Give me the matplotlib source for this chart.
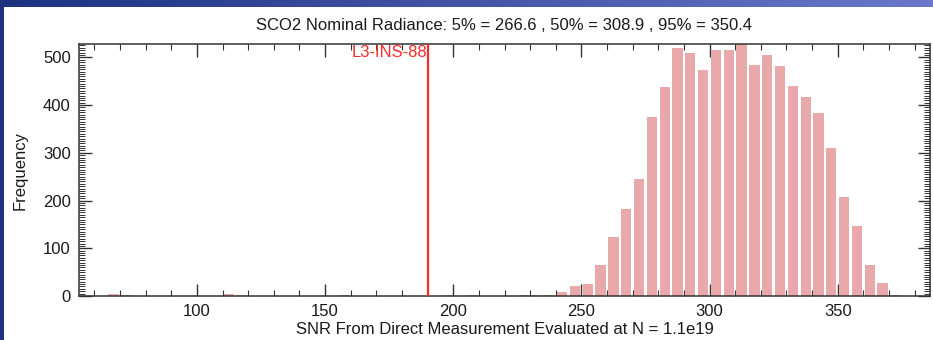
import numpy as np
import matplotlib
matplotlib.use("Agg")
import matplotlib.pyplot as plt
from matplotlib.ticker import MultipleLocator
from matplotlib.patches import Rectangle

plt.rcParams['font.family'] = ['Liberation Sans', 'DejaVu Sans']

# ---- data (histogram, bin width 5) ----
bin_left = [60, 65, 70, 110, 115, 120, 155, 165, 175, 180, 185,
            195, 205, 220, 225, 230, 235, 240, 245, 250, 255,
            260, 265, 270, 275, 280, 285, 290, 295, 300, 305,
            310, 315, 320, 325, 330, 335, 340, 345, 350, 355,
            360, 365, 370]
counts = [1, 4, 2, 4, 3, 1, 2, 1, 1, 1, 1,
          3, 2, 1, 2, 2, 3, 9, 21, 26, 65,
          124, 182, 246, 375, 438, 519, 510, 474, 515, 515,
          530, 483, 506, 481, 441, 416, 383, 310, 207, 146,
          65, 28, 3]
bin_width = 5
ref_value = 190
ref_label = "L3-INS-88"
title = "SCO2 Nominal Radiance: 5% = 266.6 , 50% = 308.9 , 95% = 350.4"
xlabel = "SNR From Direct Measurement Evaluated at N = 1.1e19"
ylabel = "Frequency"

W, H = 933, 340
fig = plt.figure(figsize=(W / 100, H / 100), dpi=100, facecolor='white')

# slide-like blue frame: gradient strip on top, dark strip on the left
top = fig.add_axes([0, 1 - 7 / H, 1, 7 / H], zorder=0)
top.set_axis_off()
gx = np.linspace(0, 1, 200)
left_c = np.array([30, 50, 128]) / 255
right_c = np.array([105, 120, 200]) / 255
grad = (left_c[None, :] * (1 - gx[:, None]) + right_c[None, :] * gx[:, None])
top.imshow(grad[None, :, :], aspect='auto', extent=[0, 1, 0, 1])
top.set_xlim(0, 1); top.set_ylim(0, 1)
fig.patches.append(Rectangle((0, 0), 4 / W, 1, transform=fig.transFigure,
                             facecolor=left_c, edgecolor='none', zorder=0))

ax = fig.add_axes([79 / W, 1 - 296 / H, (930 - 79) / W, (296 - 44) / H], zorder=1)
ax.set_facecolor('none')

gap = 1.0
ax.bar([b + gap / 2 for b in bin_left], counts, width=bin_width - gap,
       align='edge', color='#E9A9AA', edgecolor='none', zorder=2)

ax.axvline(ref_value, color='#FF2A2A', lw=1.6, zorder=3)
ax.text(ref_value - 0.3, 510, ref_label, color='#FF2A2A', fontsize=12,
        ha='right', va='center', zorder=4)

ax.set_xlim(54, 386)
ax.set_ylim(0, 528)

ax.xaxis.set_major_locator(MultipleLocator(50))
ax.xaxis.set_minor_locator(MultipleLocator(10))
ax.yaxis.set_major_locator(MultipleLocator(100))
ax.yaxis.set_minor_locator(MultipleLocator(5))
ax.tick_params(which='both', direction='in', top=True, right=True,
               color='#333333', labelsize=12, labelcolor='#1a1a1a')
ax.tick_params(which='major', length=9, width=1.0, pad=6)
ax.tick_params(which='minor', length=4.5, width=0.8)
ax.tick_params(axis='y', which='minor', length=4, width=0.7)
for s in ax.spines.values():
    s.set_color('#333333')
    s.set_linewidth(1.1)

ax.set_title(title, fontsize=12, color='#1a1a1a', pad=10)
ax.set_xlabel(xlabel, fontsize=12, color='#1a1a1a', labelpad=2)
ax.set_ylabel(ylabel, fontsize=12, color='#1a1a1a', labelpad=11)

fig.savefig("out.png", dpi=100, facecolor='white')
